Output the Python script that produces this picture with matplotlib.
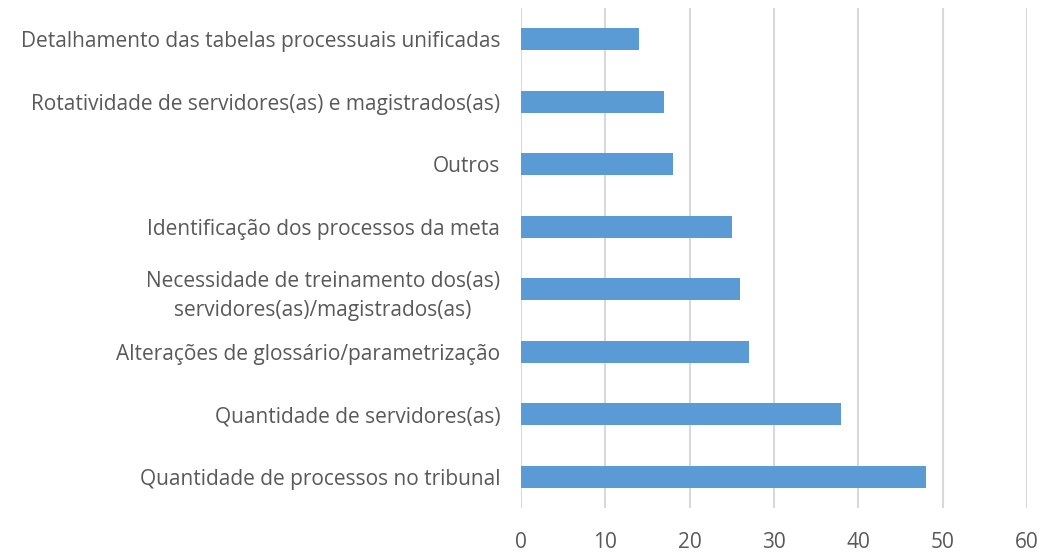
import matplotlib
matplotlib.use("Agg")
import matplotlib.pyplot as plt

# categories from bottom to top
categories = [
    "Quantidade de processos no tribunal",
    "Quantidade de servidores(as)",
    "Alterações de glossário/parametrização",
    "Necessidade de treinamento dos(as)\nservidores(as)/magistrados(as)",
    "Identificação dos processos da meta",
    "Outros",
    "Rotatividade de servidores(as) e magistrados(as)",
    "Detalhamento das tabelas processuais unificadas",
]
values = [48, 38, 27, 26, 25, 18, 17, 14]
xticks = [0, 10, 20, 30, 40, 50, 60]

plt.rcParams['font.family'] = ['Open Sans', 'DejaVu Sans']

fig = plt.figure(figsize=(10.56, 5.52), dpi=100)
ax = fig.add_axes([0.4934, 0.0797, 0.9725 - 0.4934, 0.9855 - 0.0797])

ypos = list(range(len(categories)))
ax.barh(ypos, values, height=0.35, color="#5B9BD5", zorder=3)

ax.set_xlim(0, 60)
ax.set_ylim(-0.5, len(categories) - 0.5)
ax.set_xticks(xticks)
ax.set_yticks(ypos)
ax.set_yticklabels(categories, multialignment="center", linespacing=1.5)
ax.grid(axis="x", color="#D9D9D9", linewidth=1.5, zorder=0)
for s in ax.spines.values():
    s.set_visible(False)
ax.tick_params(axis="both", length=0, colors="#595959", labelsize=15)
ax.tick_params(axis="x", pad=17)
ax.tick_params(axis="y", pad=15)

fig.savefig("out.png", dpi=100)
